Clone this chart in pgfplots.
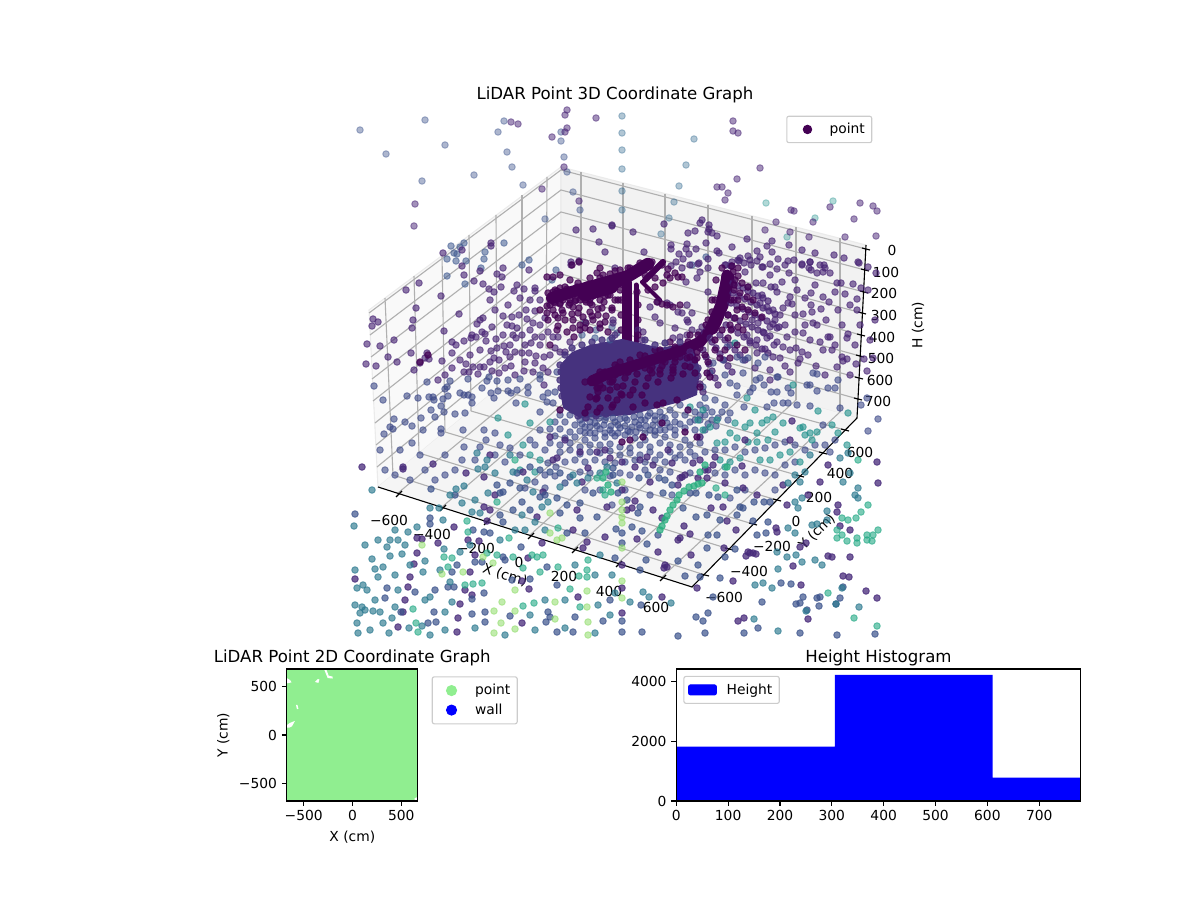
\documentclass[border=0pt]{standalone}
\usepackage{fontspec}
\setmainfont{DejaVu Sans}
\usepackage{pgfplots}
\pgfplotsset{compat=1.18}
\definecolor{gridc}{HTML}{B0B0B0}
\newcommand\gl[1]{\addplot[forget plot,color=gridc,line width=.8pt] coordinates {#1};}
\newcommand\bl[1]{\addplot[forget plot,color=black,line width=.8pt] coordinates {#1};}
\newcommand\pts[3]{\definecolor{c#1}{HTML}{#1}\addplot[forget plot,only marks,mark=*,mark size=2.35pt,color=c#1,opacity=#2,line width=.7pt] coordinates {#3};}
\newcommand\arm[3]{\definecolor{c#1}{HTML}{#1}\addplot[forget plot,color=c#1,line width=#2,line cap=round,line join=round] coordinates {#3};}
\newcommand\lb[3]{\node[inner sep=0pt] at (axis cs:#1,#2) {#3};}
\definecolor{lgreen}{HTML}{90EE90}
\definecolor{vdark}{HTML}{440154}
\pgfplotsset{px/.style={scale only axis,width=379.44bp,height=378.72bp,at={(253.44bp,190.08bp)},anchor=south west,xmin=352,xmax=879,ymin=110,ymax=636,y dir=reverse,axis lines=none},
mpl/.style={scale only axis,anchor=south west,axis on top,axis line style={line width=.8pt},tick style={black,line width=.8pt},tickwidth=3.5pt,tick align=outside,xtick pos=bottom,ytick pos=left,
tick label style={font=\fontsize{10}{12}\selectfont},label style={font=\fontsize{10}{12}\selectfont},title style={font=\fontsize{12}{14}\selectfont,yshift=-7bp},
/pgf/number format/assume math mode=true,/pgf/number format/1000 sep={},
legend style={font=\fontsize{10}{12}\selectfont,draw=black!20,rounded corners=1.5pt,line width=.8pt},legend cell align=left}}
\begin{document}
\begin{tikzpicture}[font=\fontsize{10}{12}\selectfont]
\path (0,0) rectangle (864bp,648bp);
% ---------- 3D frame
\begin{axis}[px,clip=false]
\addplot[forget plot,fill=black!2.5,draw=black!8,line width=.8pt] coordinates {(369,310)(561,167)(561,336)(378,487)} --cycle;
\addplot[forget plot,fill=black!5,draw=black!8,line width=.8pt] coordinates {(561,167)(866,245)(857,418)(561,336)} --cycle;
\addplot[forget plot,fill=black!3.75,draw=none] coordinates {(378,487)(561,336)(857,418)(692,587)} --cycle;
\gl{(398,493)(581,341)}\gl{(442,507)(623,353)}\gl{(486,521)(665,364)}\gl{(530,535)(708,376)}\gl{(574,549)(752,388)}\gl{(618,563)(796,400)}\gl{(662,577)(840,412)}
\gl{(393,475)(705,575)}\gl{(419,453)(729,549)}\gl{(445,432)(753,524)}\gl{(471,411)(777,500)}\gl{(497,389)(800,476)}\gl{(522,368)(823,453)}\gl{(546,348)(845,430)}
\gl{(581,172)(581,341)}\gl{(623,183)(623,353)}\gl{(665,194)(665,364)}\gl{(708,205)(708,376)}\gl{(752,216)(752,388)}\gl{(796,227)(796,400)}\gl{(840,238)(840,412)}
\gl{(385,298)(393,475)}\gl{(414,276)(419,453)}\gl{(442,255)(445,432)}\gl{(469,235)(471,411)}\gl{(496,215)(497,389)}\gl{(522,195)(522,368)}\gl{(547,177)(546,348)}
\gl{(369,313)(561,170)(866,249)}\gl{(370,335)(561,190)(865,270)}\gl{(371,357)(561,212)(864,292)}\gl{(372,379)(561,233)(862,313)}\gl{(373,401)(561,253)(861,335)}\gl{(375,423)(561,274)(860,356)}\gl{(376,445)(561,295)(859,378)}\gl{(377,467)(561,316)(858,399)}
\bl{(378,487)(692,587)(857,418)(866,245)}
\bl{(396,497)(402,491)}\bl{(440,511)(446,505)}\bl{(484,525)(490,519)}\bl{(528,539)(534,533)}\bl{(572,553)(578,547)}\bl{(616,567)(622,561)}\bl{(660,581)(666,575)}
\bl{(701,574)(709,576)}\bl{(725,548)(733,550)}\bl{(749,523)(757,525)}\bl{(773,499)(781,501)}\bl{(796,475)(804,477)}\bl{(819,452)(827,454)}\bl{(841,429)(849,431)}
\bl{(862,248)(870,250)}\bl{(861,269)(869,271)}\bl{(860,291)(868,293)}\bl{(858,312)(866,314)}\bl{(857,334)(865,336)}\bl{(856,355)(864,357)}\bl{(855,377)(863,379)}\bl{(854,398)(862,400)}
\lb{389}{520}{−600}\lb{432}{534}{−400}\lb{476}{548}{−200}\lb{519}{562}{0}\lb{564}{576}{200}\lb{609}{591}{400}\lb{656}{607}{600}
\lb{724}{597}{−600}\lb{749}{571}{−400}\lb{772}{546}{−200}\lb{796}{521}{0}\lb{819}{497}{200}\lb{840}{473}{400}\lb{860}{452}{600}
\lb{892}{250}{0}\lb{886}{272}{100}\lb{884}{293}{200}\lb{884}{315}{300}\lb{882}{337}{400}\lb{881}{358}{500}\lb{880}{380}{600}\lb{878}{401}{700}
\node[rotate=-18,inner sep=0pt] at (axis cs:505,575) {X (cm)};
\node[rotate=45,inner sep=0pt] at (axis cs:817,532) {Y (cm)};
\node[rotate=90,inner sep=0pt] at (axis cs:918,325) {H (cm)};
\node[font=\fontsize{12}{14}\selectfont,inner sep=0pt] at (axis cs:615,95) {LiDAR Point 3D Coordinate Graph};
\end{axis}
% ---------- 3D points, projected
\begin{axis}[px,clip=true,legend style={at={(0.9873,0.9892)},anchor=north east,font=\fontsize{10}{12}\selectfont,draw=black!20,rounded corners=1.5pt,line width=.8pt,inner xsep=3pt,inner ysep=3pt},legend cell align=left]
\addlegendimage{legend image code/.code={\path (0bp,-3bp) (25bp,3bp); \fill[vdark] (11.5bp,0bp) circle[radius=3pt];}}
\addlegendentry{point}
% faint, far points
\pts{3B528B}{.42}{(360,130)(425,120)(386,154)(445,145)(504,121)(498,132)(507,152)(512,167)(474,175)(422,181)(523,185)(561,141)(561,132)(564,157)(567,172)(573,192)(580,210)(545,219)(689,108)}
\pts{31688E}{.38}{(622,116)(622,133)(622,150)(622,169)(622,191)(622,210)(694,139)(686,165)(679,186)(674,202)(669,218)(661,234)}
\pts{21918C}{.35}{(766,203)(833,201)(815,218)(787,237)}
\pts{482475}{.5}{(511,122)(518,124)(567,110)(565,115)(567,128)(565,132)(552,137)(596,118)(564,167)(542,189)(415,204)(414,226)(579,201)(733,121)(733,131)(738,133)(760,168)(737,179)(717,187)(722,187)(728,193)(725,200)(791,210)(794,211)(830,207)(860,203)(873,206)(877,211)(854,219)(813,222)(776,222)(765,230)(790,232)(809,237)(845,237)(876,236)}
\pts{3F5A90}{.55}{(451,246)(454,253)(457,254)(460,247)(464,243)(447,259)(456,261)(466,261)(485,252)(484,259)(504,243)(522,265)(529,260)(481,268)(447,276)(465,284)(692,265)(706,257)(552,280)(556,270)(585,322)(596,330)(612,327)(617,333)(582,335)(595,338)(610,340)}
% mid purple
\pts{482475}{.62}{(576,230)(593,229)(612,225)(599,242)(605,252)(571,262)(579,261)(571,265)(443,253)(462,250)(462,266)(491,246)(491,243)(503,268)(529,270)(612,226)(633,232)(664,224)(702,220)(700,223)(709,225)(709,229)(708,232)(712,233)(717,236)(695,231)(688,233)(687,244)(671,245)(671,249)(706,243)(696,249)(686,249)(679,254)(689,254)(644,252)(717,251)(719,253)(732,247)(747,239)(767,246)(772,241)(789,245)(757,251)(772,252)(760,257)(748,256)(778,259)(802,250)(815,253)(834,255)(844,258)(859,263)(868,267)(788,261)(794,260)(810,262)(802,264)(824,265)(738,260)(744,263)(750,260)(751,265)(726,265)(731,266)(708,259)(699,263)(683,259)(676,262)(671,266)(708,268)(682,268)(762,267)(770,264)(777,269)(809,268)(825,268)(615,268)
(406,290)(419,283)(441,296)(416,308)(459,314)(464,275)(474,281)(480,271)(483,284)(489,289)(494,292)(497,274)(502,277)(501,287)(514,291)(517,285)(524,289)(535,291)(535,288)(508,305)(483,318)(480,320)(477,324)(373,319)(378,322)(372,326)(413,320)(412,328)(444,331)(472,335)(471,338)(476,337)(482,332)(485,334)(492,327)(503,316)(512,317)(519,315)(526,310)(535,311)(527,319)(533,323)(507,325)(512,326)(517,328)(513,335)(516,338)(503,335)(496,339)(486,341)(464,341)(452,342)(456,345)(394,340)(367,344)(380,346)(411,353)(388,357)(427,353)(429,359)(425,358)(420,363)(397,362)(366,364)(376,366)(414,370)(442,361)(452,353)(452,368)(466,364)(464,372)(469,372)(473,367)(480,367)(484,367)(478,374)(492,371)(499,373)(497,348)(491,351)(504,346)(494,358)(499,360)(506,352)(510,357)(515,352)(522,353)(529,353)(536,356)(544,357)(531,343)(535,337)(542,337)(548,332)(511,366)(524,371)(533,372)(543,368)(553,337)(558,337)(570,342)(550,355)(560,352)(565,352)
(490,300)(520,298)(530,300)(495,310)(540,300)(545,318)(540,325)(530,330)(522,335)(540,345)(525,345)(510,345)(480,350)(470,355)(460,360)(445,375)(438,380)(525,362)(505,368)(490,362)(515,375)(535,363)(548,372)(544,385)(555,348)
(686,282)(708,292)(697,278)(700,272)(698,264)(690,265)(725,265)(731,266)(739,261)(757,261)(763,267)(789,273)(802,265)(810,262)(811,270)(817,273)(830,273)(823,272)(820,265)(841,283)(837,283)(853,284)(858,262)(861,288)(876,273)(823,297)(829,302)(821,309)(811,305)(812,312)(811,293)(845,294)(857,310)(857,299)(803,314)(792,304)(783,308)(780,315)(775,287)(771,287)(782,282)(762,295)(756,283)(748,287)(763,283)(797,290)(790,297)(777,292)(817,325)(813,323)(805,325)(795,332)(803,333)(810,340)(820,342)(828,337)(830,337)(848,334)(847,338)(832,350)(823,350)(842,357)(847,359)(843,361)(864,359)(873,358)(856,364)(837,367)(867,371)(816,366)(787,337)(783,347)(796,348)(802,352)(800,359)(798,363)(785,366)(773,357)(765,349)(757,353)(774,345)(777,342)(767,338)(757,340)(747,335)(750,343)(763,332)(770,327)(775,320)(777,328)(758,323)(752,320)(767,307)(773,310)(788,303)(760,303)
(795,280)(815,285)(835,292)(850,305)(868,290)(805,298)(838,310)(826,320)(842,325)(860,325)(875,320)(795,315)(785,325)(835,345)(855,345)(870,340)(780,358)(790,372)(808,355)(825,375)(850,375)(770,370)(755,368)(770,380)(790,350)(732,262)(745,272)(770,275)(785,265)(740,258)
(667,303)(670,305)(658,302)(655,317)(678,312)(682,313)(687,305)(692,313)(687,320)(688,322)(702,327)(699,332)(692,330)(687,335)(680,337)(675,328)(673,338)(660,323)(643,332)(638,330)(642,340)(613,320)(615,335)(613,323)(710,338)(650,307)}
\pts{482475}{.7}{(733,283)(738,286)(743,288)(748,291)(753,293)(758,296)(763,298)(768,301)(733,293)(739,296)(745,299)(751,302)(757,305)(763,308)(769,311)(775,314)(731,303)(737,306)(743,309)(749,312)(755,315)(761,318)(767,321)(773,324)(779,327)(728,315)(734,318)(740,321)(746,324)(752,327)(758,330)(764,333)(770,336)(726,325)(732,329)(738,333)(744,337)(750,341)(756,345)(762,349)(768,353)(720,335)(725,340)(730,345)(735,350)(740,355)(745,360)(712,342)(716,348)(720,354)(724,360)(728,366)(732,372)(703,350)(706,357)(709,364)(712,371)(715,378)(718,385)(690,352)(692,360)(695,368)(698,376)(700,384)(703,392)}
% blue mid field
\pts{3E4A89}{.6}{(427,382)(374,386)(383,400)(418,398)(407,396)(433,397)(429,397)(434,400)(443,399)(448,396)(441,406)(431,410)(421,418)(435,417)(444,412)(455,414)(465,413)(394,419)(405,422)(390,427)(393,429)(412,426)(423,430)(441,429)(441,433)(463,430)(484,430)(495,433)(384,434)(412,443)(464,447)(486,440)(450,381)(447,387)(445,389)(468,379)(482,388)(487,381)(489,377)(497,381)(508,380)(520,379)(460,393)(464,395)(468,395)(472,397)(472,403)(491,393)(494,398)(498,391)(508,391)(511,393)(517,390)(528,387)(528,393)(516,403)(540,412)(540,375)(540,379)(543,397)(548,393)(547,402)(553,403)(555,392)(557,372)
(725,375)(730,383)(737,386)(743,373)(750,392)(753,388)(756,380)(760,378)(764,385)(771,392)(777,377)(778,377)(777,392)(744,407)(737,395)(730,413)(758,363)(765,357)(748,358)(743,360)(737,357)(727,347)(723,360)(713,363)(710,373)(703,387)(697,370)
(788,388)(807,385)(817,391)(810,385)(828,388)(835,388)(838,380)(817,374)(813,373)(791,393)(767,407)(774,403)(783,403)(788,403)(797,405)(810,406)(840,408)(861,405)(867,398)(878,419)(868,431)(823,425)
(560,415)(570,415)(580,420)(590,422)(640,415)(650,413)(660,412)(670,410)(680,405)(555,422)(565,422)(575,425)(585,427)(595,423)(605,420)(615,422)(625,418)(635,422)(645,420)(655,420)(665,418)(675,415)(685,415)(695,412)(550,429)(560,429)(570,432)(580,431)(590,433)(600,429)(610,430)(620,428)(630,432)(640,428)(650,430)(660,430)(670,427)(680,424)(690,422)(700,420)
(555,436)(565,438)(575,437)(585,440)(595,438)(605,437)(615,436)(625,435)(635,438)(645,440)(655,435)(665,437)(675,435)(685,440)(695,430)(705,430)(550,443)(560,445)(570,443)(580,447)(590,445)(600,445)(610,444)(620,447)(630,448)(640,445)(650,447)(660,443)(670,445)(680,447)(690,445)(700,443)(560,452)(570,450)(580,454)(590,452)(600,453)(610,451)(620,455)(630,453)(640,455)(650,452)(660,455)(670,452)(680,455)(690,452)(545,450)(535,445)(540,430)(530,440)
(585,418)(592,417)(599,418)(606,417)(613,418)(620,419)(627,420)(634,417)(641,420)(648,416)(655,416)(662,417)(582,424)(590,427)(597,426)(604,425)(611,426)(618,425)(625,426)(632,427)(639,425)(646,426)(653,425)(660,424)(667,423)(675,422)(585,433)(595,433)(605,433)(612,433)(618,433)(628,431)(636,432)(645,433)(655,431)(665,430)(675,430)(685,428)
(700,405)(706,408)(712,412)(705,415)(712,420)(718,418)(700,415)(695,420)(708,424)(716,426)(722,412)(728,420)(725,405)(715,400)(705,398)
(548,463)(556,467)(565,462)(575,460)(585,462)(595,460)(605,462)(615,463)(625,462)(635,460)(645,462)(655,460)(665,462)(675,458)(685,460)(695,456)(705,452)(715,450)(725,450)(735,447)(745,452)(755,450)(765,448)(775,445)(785,442)(795,445)(545,475)(555,476)(580,472)(590,473)(610,476)(620,473)(630,475)(645,470)(660,470)(670,472)(690,473)(715,473)(725,475)(735,470)(745,475)(755,470)(765,473)(775,475)(785,465)(795,462)(805,450)(815,445)(825,445)(830,452)(835,440)(500,445)(510,448)(520,455)(505,462)(495,455)(480,447)(475,460)(462,460)(455,470)(445,475)(435,480)(425,470)(410,480)(395,475)(385,470)(380,450)(400,450)(420,455)(445,455)(525,488)(535,482)(545,488)(585,490)(600,490)(612,505)(625,490)(650,495)(672,495)(730,498)(745,490)(775,490)}
% floor colours
\pts{21918C}{.6}{(530,423)(550,422)(508,435)(498,418)(523,445)(525,404)(735,343)(747,398)(793,385)(818,411)(848,413)(847,445)(838,433)(832,425)(773,417)(767,420)(755,410)(762,423)(757,433)(750,423)(745,427)(735,423)(730,433)(725,442)(717,443)(710,427)(717,420)(703,430)(698,420)(703,410)(690,407)(783,423)(803,427)(810,433)(817,432)(805,435)(812,440)(800,428)(775,432)(768,440)(757,442)(748,442)(737,438)(725,467)(530,455)(540,460)(520,470)(535,472)(720,460)(730,462)(740,458)(760,460)(770,460)(780,455)(790,452)(800,462)}
\pts{472A7A}{.75}{(362,467)(403,467)(403,469)(433,464)(466,473)(484,477)(495,495)(484,507)(490,510)(487,521)(454,527)(417,538)(422,539)(438,543)(479,541)(468,540)(475,555)(417,553)(414,564)(355,579)(410,577)(408,587)(405,600)(465,590)(472,595)(470,572)(528,558)(529,589)(522,581)(522,623)(460,604)(458,618)(457,632)(398,627)(403,612)(578,597)(542,543)(537,517)(573,530)(577,510)(587,542)(583,548)(605,537)(582,482)(553,460)(523,472)(490,455)(543,492)(610,458)(607,507)(588,468)(597,452)(557,458)
(647,457)(622,462)(635,467)(653,465)(672,463)(693,463)(715,457)(713,465)(708,470)(705,470)(742,466)(682,477)(685,475)(680,478)(698,478)(707,478)(650,482)(678,485)(725,483)(743,488)(757,495)(783,485)(787,505)(808,495)(828,465)(820,482)(838,505)(837,512)(840,526)(850,530)(806,543)(800,547)(653,510)(662,518)(635,501)(632,508)(627,510)(637,539)(658,552)(684,526)(690,534)(680,538)(678,540)(711,508)(723,507)(727,521)(736,530)(724,548)(748,552)(750,553)(753,553)(756,554)(746,556)(691,555)(665,565)(667,567)(664,568)(733,581)(697,588)(793,566)(828,556)(832,557)(850,557)(843,576)(849,577)(866,591)(877,598)(801,585)(662,597)(738,621)(744,618)(808,619)(622,565)(776,528)(777,532)(622,490)(622,588)(622,613)(792,421)(790,440)(877,462)(878,483)(565,440)(580,452)(605,450)(640,460)(668,450)(700,460)(745,440)(700,437)(550,437)}
\pts{3B528B}{.7}{(431,489)(355,514)(430,524)(473,530)(484,532)(490,533)(521,547)(503,557)(505,560)(457,565)(452,572)(475,562)(482,562)(547,567)(557,585)(530,579)(512,580)(484,593)(472,599)(454,587)(448,587)(435,590)(385,598)(415,592)(387,588)(434,612)(428,623)(436,622)(401,612)(472,614)(485,612)(485,622)(510,616)(548,612)(550,617)(546,622)(575,617)(557,632)(573,632)(603,621)(610,600)(430,518)(455,495)(500,515)(503,522)(513,510)(530,510)(522,502)(500,493)(503,492)(520,488)(510,483)(517,473)(497,485)(540,497)(545,495)(550,472)(540,470)(530,467)(560,473)(570,477)(565,483)(557,498)(567,505)(560,513)(580,503)(580,518)(567,533)(585,533)(597,517)(593,493)(613,475)(618,493)
(613,468)(639,478)(648,475)(659,478)(665,480)(672,485)(690,493)(696,493)(663,493)(709,495)(718,497)(737,490)(754,502)(764,502)(770,502)(743,508)(740,507)(720,520)(696,517)(707,515)(683,508)(737,515)(768,522)(757,535)(766,533)(753,521)(717,535)(708,535)(707,548)(698,565)(678,561)(646,560)(640,570)(615,558)(616,529)(642,531)(632,527)(658,535)(647,544)(638,513)(627,500)(640,507)(622,533)(622,543)(700,577)(685,576)(725,557)(735,549)(720,578)(713,597)(781,583)(791,584)(803,597)(800,603)(796,604)(820,597)(817,598)(819,606)(840,598)(836,604)(843,587)(807,610)(762,602)(708,613)(703,621)(696,617)(758,628)(744,633)(705,633)(678,636)(642,632)(800,633)(837,635)(875,634)(622,621)(622,632)(641,605)}
\pts{2A788E}{.65}{(372,490)(354,526)(408,532)(417,527)(387,547)(390,556)(402,554)(375,569)(372,559)(383,567)(378,577)(355,570)(357,588)(363,585)(367,590)(375,600)(362,607)(355,605)(360,613)(365,610)(373,611)(383,623)(357,623)(370,630)(358,633)(389,633)(409,628)(422,626)(425,561)(423,572)(444,549)(450,582)(452,602)(395,607)(398,540)(390,540)(430,508)(439,508)(443,520)(462,503)(456,489)(450,495)(464,486)(475,500)(472,512)(480,513)(488,493)(477,453)(487,460)(478,469)(485,467)(495,473)(510,455)(513,472)(527,480)(522,515)(542,507)(548,502)(533,492)(560,487)(573,475)(577,483)(588,478)(600,473)(607,467)(617,483)(430,597)(615,593)
(840,458)(848,453)(850,473)(843,482)(858,488)(855,495)(858,498)(810,455)(805,472)(800,482)(795,475)(788,483)(802,498)(795,502)(798,508)(827,511)(827,520)(817,524)(812,525)(788,528)(795,533)(787,557)(796,555)(802,562)(815,560)(822,565)(777,552)(778,569)(755,585)(763,583)(772,588)(806,611)(754,619)(778,631)(630,602)(643,592)(649,597)(671,603)(842,588)(859,607)(836,604)
(395,530)(405,545)(378,540)(365,545)(410,565)(395,575)(398,590)(380,612)(392,618)(425,600)(445,612)(445,630)(430,635)(475,628)(505,635)(530,615)(535,630)(565,628)(595,633)(610,615)(598,605)(565,600)(545,600)(440,570)(460,552)(470,545)(500,540)(525,530)(545,530)(600,555)(612,575)(595,575)(575,565)(535,522)(515,530)}
\pts{22A884}{.6}{(467,521)(444,557)(452,558)(448,567)(465,585)(473,584)(482,583)(487,553)(497,555)(513,557)(509,538)(523,568)(540,572)(558,567)(570,589)(532,555)(537,557)(543,555)(523,606)(534,603)(580,607)(587,570)(579,576)(587,577)(418,632)(416,623)(413,609)(588,560)(558,528)(603,490)(605,495)(597,478)(515,460)(497,502)(468,532)
(858,460)(861,512)(868,505)(867,535)(873,535)(878,530)(872,541)(867,540)(857,538)(857,543)(847,541)(842,535)(837,538)(837,530)(842,518)(848,520)(856,518)(725,495)(716,488)(828,593)(854,618)(877,626)}
\pts{29AF7F}{.75}{(660,530)(662,526)(665,520)(667,516)(670,510)(673,505)(677,500)(679,495)(684,491)(689,487)(694,486)(698,484)(702,483)(705,465)(700,472)(727,467)(603,478)(606,472)(608,485)(611,492)}
\pts{8FDC6A}{.55}{(442,574)(463,572)(483,557)(493,563)(502,602)(515,590)(515,611)(494,611)(501,623)(515,629)(494,633)(555,602)(555,619)(587,591)(587,607)(588,622)(588,635)(550,513)(557,540)(562,538)(550,533)(622,482)(622,502)(622,510)(622,517)(622,523)(622,548)(622,581)(622,598)(422,545)}
% dark fans round the arms
\pts{440154}{.72}{(553,292)(558,293)(550,305)(560,303)(553,310)(563,313)(573,320)(558,318)(557,330)(567,332)(573,328)(580,325)(583,317)(593,320)(573,307)(570,303)(602,308)(590,303)(547,313)(578,313)(585,328)(547,277)(553,277)(560,275)(572,265)(579,262)(600,268)(597,273)(560,288)(570,280)(585,300)(592,305)(600,300)(608,295)(615,300)(612,310)(598,315)(605,322)(590,312)(580,300)(570,300)(563,300)(555,303)(600,328)(590,330)(608,332)(550,345)(420,362)(428,355)
(600,290)(593,296)(586,302)(579,308)(572,314)(565,320)(558,326)(590,290)(583,295)(576,300)(569,305)(562,310)(555,315)(548,320)(610,295)(604,302)(598,309)(592,316)(586,323)(580,330)(574,337)(575,290)(568,294)(561,298)(554,302)(547,306)(540,310)(618,300)(612,308)(606,316)(600,324)
(648,290)(655,287)(663,283)(670,278)(678,277)(667,275)(662,265)(668,269)(675,273)(682,277)(643,270)(655,278)(657,302)(662,304)(667,305)(673,307)(680,305)
(735,280)(742,283)(748,287)(737,310)(742,307)(748,310)(755,313)(762,317)(745,317)(753,300)(747,297)(740,293)(738,327)(743,330)(734,290)(738,300)(735,318)(731,330)(728,338)(737,345)(745,350)(725,350)(730,358)(715,350)(720,358)(705,355)(708,362)(697,358)
(548,293)(552,296)(557,291)(562,296)(567,289)(572,294)(577,287)(582,292)(587,285)(592,290)(597,283)(602,288)(607,281)(612,286)(617,279)(622,284)(600,278)(610,274)(620,270)(630,268)(640,268)(645,275)(650,266)(652,262)(640,263)(625,292)(637,292)(621,300)(638,305)(621,315)(638,320)(621,330)(638,335)
(716,280)(738,276)(738,268)(722,268)(732,266)(712,300)(734,300)(708,320)(730,325)(690,335)(700,348)(670,342)(680,357)(655,350)(665,362)(640,355)(645,368)(620,362)(628,372)(605,372)(610,382)(595,378)(598,388)(585,382)
(555,290)(565,287)(578,283)(590,278)(603,275)(615,271)(628,268)(560,304)(575,301)(590,299)(605,296)(620,290)}
\arm{440154}{8.6bp}{(552,298)(575,291)(600,284)(625,277)}
\arm{440154}{13bp}{(585,292)(610,285)}
\arm{440154}{9bp}{(612,284)(630,275)(648,264)}
\arm{440154}{4.5bp}{(663,262)(645,280)}
\arm{440154}{3bp}{(642,282)(660,300)}
\arm{440154}{6.5bp}{(627,282)(627,342)}
\arm{440154}{3.6bp}{(636,285)(636,342)}
% central mass
\addplot[forget plot,fill={rgb,255:red,70;green,50;blue,126},draw=none] coordinates {(560,365)(572,352)(590,345)(622,339)(640,343)(660,348)(692,342)(700,370)(697,395)(680,402)(630,415)(580,418)(563,408)(560,390)} --cycle;
\arm{440154}{8bp}{(727,275)(724,300)(716,322)(700,342)(680,351)(655,359)(630,367)(605,375)(592,381)}
\arm{440154}{9.5bp}{(728,278)(722,305)(712,328)}
\pts{46327E}{.8}{(560,365)(561,372)(560,380)(561,388)(562,396)(566,403)(572,410)(578,416)(586,418)(596,416)(606,414)(618,412)(628,410)(640,408)(652,405)(662,402)(672,396)(682,390)(690,384)(696,376)(698,368)(565,355)(572,348)(582,345)(592,342)(602,340)(612,338)(645,340)(655,345)(665,343)(680,342)}
\pts{440154}{.8}{(617,373)(613,380)(618,367)(627,367)(628,372)(638,363)(653,360)(652,367)(652,373)(663,360)(660,370)(675,358)(673,367)(673,373)(690,357)(690,367)(695,373)(707,373)(710,377)(700,387)(597,388)(603,388)(597,398)(588,407)(590,397)(615,375)(617,387)(617,400)(612,407)(600,408)(560,410)(597,412)(585,413)(622,395)(630,395)(642,395)(657,405)(613,405)(633,407)(645,403)(663,403)(677,400)(688,410)(662,423)(643,437)(622,442)(630,440)(685,432)(697,437)
(600,385)(598,392)(596,399)(612,382)(610,390)(608,398)(625,378)(623,386)(621,394)(637,374)(635,382)(633,390)(650,370)(648,378)(646,386)(662,366)(660,374)(658,382)(675,362)(673,370)(671,378)(687,358)(685,366)(683,374)(697,352)(695,360)
(715,300)(712,312)(706,325)(698,335)(688,342)(675,347)(660,350)(645,356)(630,360)(615,365)(600,372)(733,272)(734,285)(731,300)(728,315)(722,330)(715,340)}
\end{axis}
% ---------- 2D scatter
\begin{axis}[mpl,at={(206.4bp,71.28bp)},width=94.5bp,height=95.04bp,xmin=-675,xmax=670,ymin=-678,ymax=678,
xtick={-500,0,500},xticklabels={−500,0,500},ytick={-500,0,500},yticklabels={−500,0,500},
xlabel={X (cm)},ylabel={Y (cm)},title={LiDAR Point 2D Coordinate Graph},
legend style={at={(1.105,0.945)},anchor=north west,inner xsep=3pt,inner ysep=3.4pt,row sep=1pt}]
\addlegendimage{legend image code/.code={\path (0bp,-3bp) (25bp,3bp); \fill[lgreen] (10.5bp,0bp) circle[radius=3.6pt];}}
\addlegendimage{legend image code/.code={\path (0bp,-3bp) (25bp,3bp); \fill[blue] (10.5bp,0bp) circle[radius=3.6pt];}}
\addlegendentry{point}\addlegendentry{wall}
\addplot[forget plot,fill=lgreen,draw=none] coordinates {(-675,-678)(670,-678)(670,678)(-675,678)} --cycle;
\addplot[forget plot,fill=white,draw=none] coordinates {(-292,678)(-270,678)(-245,610)(-205,600)(-205,580)(-255,585)} --cycle;
\addplot[forget plot,fill=white,draw=none] coordinates {(-385,545)(-355,575)(-340,570)(-350,535)} --cycle;
\addplot[forget plot,fill=white,draw=none] coordinates {(-675,585)(-640,565)(-625,540)(-675,530)} --cycle;
\addplot[forget plot,fill=white,draw=none] coordinates {(-580,310)(-565,310)(-555,270)(-570,265)} --cycle;
\addplot[forget plot,fill=white,draw=none] coordinates {(-675,100)(-640,125)(-590,145)(-620,90)(-650,75)(-675,75)} --cycle;
\addplot[forget plot,fill=white,draw=none] coordinates {(635,-650)(660,-640)(670,-678)(640,-678)} --cycle;
\end{axis}
% ---------- histogram
\begin{axis}[mpl,at={(486.9bp,71.28bp)},width=291.2bp,height=95.04bp,xmin=0,xmax=780,ymin=0,ymax=4425,
xtick={0,100,...,700},ytick={0,2000,4000},title={Height Histogram},
legend style={at={(0.0175,0.948)},anchor=north west,inner xsep=3pt,inner ysep=3.2pt}]
\addlegendimage{legend image code/.code={\path (0bp,0bp) (25bp,0bp); \fill[blue] (0bp,-3.6bp) rectangle (20bp,3.6bp);}}
\addplot[forget plot,ybar interval,fill=blue,draw=none] coordinates {(0,1820)(306,4224)(610,782)(780,782)};
\addlegendentry{Height}
\end{axis}
\end{tikzpicture}
\end{document}
